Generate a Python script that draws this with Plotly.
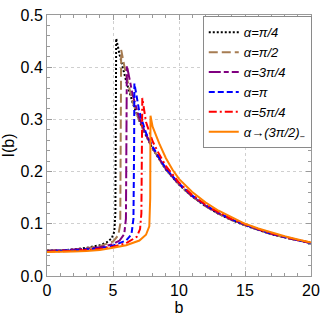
import plotly.graph_objects as go

# ---- data ----
labels = ["α=π/4", "α=π/2", "α=3π/4", "α=π", "α=5π/4", "α→(3π/2)<sub>−</sub>"]
colors = ["#000000", "#A67C52", "#800080", "#0000FF", "#FF0000", "#FF8000"]
dashes = ["2px,2px", "9px,4px", "12px,3px,5px,3px", "6px,3px", "8px,3px,2px,3px", "solid"]

b_black = [0, 1, 2, 3, 4, 4.5, 4.9, 5.1, 5.18, 5.22, 5.24, 5.5, 6, 6.5, 7, 7.5, 8, 9, 10, 11, 12, 13, 14, 15, 16, 17, 18, 19, 20]
I_black = [0.049, 0.049, 0.051, 0.054, 0.059, 0.064, 0.072, 0.085, 0.12, 0.25, 0.455, 0.424, 0.373, 0.331, 0.297, 0.269, 0.244, 0.204, 0.175, 0.152, 0.134, 0.119, 0.107, 0.097, 0.088, 0.080, 0.074, 0.068, 0.063]

b_brown = [0, 1, 2, 3, 4, 5, 5.4, 5.55, 5.6, 5.62, 6, 6.5, 7, 7.5, 8, 9, 10, 11, 12, 13, 14, 15, 16, 17, 18, 19, 20]
I_brown = [0.049, 0.049, 0.050, 0.053, 0.057, 0.066, 0.078, 0.10, 0.25, 0.433, 0.384, 0.333, 0.297, 0.269, 0.244, 0.204, 0.175, 0.152, 0.134, 0.119, 0.107, 0.097, 0.088, 0.080, 0.074, 0.068, 0.063]

b_purple = [0, 1, 2, 3, 4, 5, 5.5, 5.85, 5.98, 6.03, 6.05, 6.5, 7, 7.5, 8, 9, 10, 11, 12, 13, 14, 15, 16, 17, 18, 19, 20]
I_purple = [0.048, 0.049, 0.050, 0.052, 0.055, 0.061, 0.068, 0.080, 0.11, 0.25, 0.403, 0.346, 0.302, 0.271, 0.246, 0.205, 0.176, 0.153, 0.135, 0.120, 0.108, 0.098, 0.089, 0.081, 0.074, 0.068, 0.063]

b_blue = [0, 1, 2, 3, 4, 5, 6, 6.4, 6.55, 6.6, 6.62, 7, 7.5, 8, 9, 10, 11, 12, 13, 14, 15, 16, 17, 18, 19, 20]
I_blue = [0.048, 0.048, 0.049, 0.051, 0.053, 0.058, 0.068, 0.080, 0.11, 0.25, 0.369, 0.314, 0.274, 0.248, 0.206, 0.177, 0.154, 0.136, 0.121, 0.108, 0.098, 0.089, 0.081, 0.075, 0.069, 0.063]

b_red = [0, 1, 2, 3, 4, 5, 6, 6.8, 7.05, 7.15, 7.2, 7.22, 7.5, 8, 8.5, 9, 10, 11, 12, 13, 14, 15, 16, 17, 18, 19, 20]
I_red = [0.047, 0.047, 0.048, 0.050, 0.052, 0.056, 0.063, 0.075, 0.090, 0.12, 0.25, 0.341, 0.295, 0.258, 0.233, 0.211, 0.179, 0.155, 0.137, 0.122, 0.109, 0.099, 0.090, 0.082, 0.075, 0.069, 0.064]

b_orange = [0, 1, 2, 3, 4, 5, 6, 7, 7.5, 7.75, 7.82, 7.84, 8, 8.5, 9, 9.5, 10, 11, 12, 13, 14, 15, 16, 17, 18, 19, 20]
I_orange = [0.046, 0.046, 0.047, 0.048, 0.050, 0.054, 0.059, 0.068, 0.079, 0.095, 0.15, 0.307, 0.286, 0.254, 0.226, 0.204, 0.186, 0.161, 0.141, 0.125, 0.112, 0.100, 0.091, 0.083, 0.076, 0.070, 0.064]

series_b = [b_black, b_brown, b_purple, b_blue, b_red, b_orange]
series_I = [I_black, I_brown, I_purple, I_blue, I_red, I_orange]

x_ticks = [0, 5, 10, 15, 20]
y_ticks = [0.0, 0.1, 0.2, 0.3, 0.4, 0.5]

fig = go.Figure()
for i in range(6):
    fig.add_trace(go.Scatter(
        x=series_b[i], y=series_I[i], mode="lines", name=labels[i],
        line=dict(color=colors[i], width=2, dash=dashes[i]),
    ))

FAM = "Liberation Sans, Arial, sans-serif"
font = dict(family=FAM, size=16, color="#000")
axis_common = dict(
    showline=True, linecolor="#9a9a9a", linewidth=1, mirror="allticks",
    ticks="inside", ticklen=5, tickcolor="#9a9a9a", tickwidth=1,
    showgrid=True, gridcolor="#cfcfcf", griddash="dot", gridwidth=1,
    zeroline=False, tickfont=font, ticklabeloverflow="allow",
)
fig.update_layout(
    width=327, height=320,
    margin=dict(l=46, r=9, t=7, b=41),
    paper_bgcolor="white", plot_bgcolor="white",
    font=font,
    xaxis=dict(range=[0, 20], tickvals=x_ticks, ticktext=[str(v) for v in x_ticks],
               title=dict(text="b", font=font, standoff=3),
               minor=dict(dtick=1, ticks="inside", ticklen=3, tickcolor="#9a9a9a", showgrid=False),
               **axis_common),
    yaxis=dict(range=[0, 0.5], tickvals=y_ticks, ticktext=[f"{v:.1f}" for v in y_ticks],
               title=dict(text="I(b)", font=font, standoff=2),
               minor=dict(dtick=0.02, ticks="inside", ticklen=3, tickcolor="#9a9a9a", showgrid=False),
               **axis_common),
    legend=dict(x=0.59, y=0.995, xanchor="left", yanchor="top",
                bgcolor="white", bordercolor="#8a8a8a", borderwidth=1,
                font=dict(family=FAM, size=13, color="#000", style="italic"),
                tracegroupgap=0, itemwidth=30),
    showlegend=True,
)

fig.write_html("out.html", config={"displayModeBar": False},
               post_script="document.body.style.margin='0';")
